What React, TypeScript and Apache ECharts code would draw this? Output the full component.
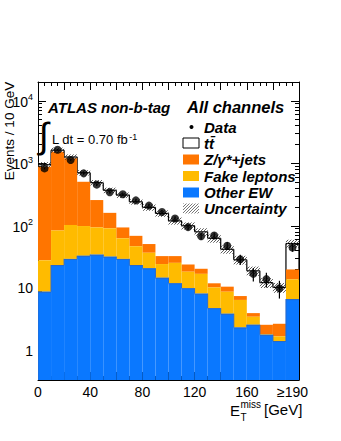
import React, { useEffect, useRef } from "react";
import * as echarts from "echarts";

// ---- data ----
const binLow = [0, 10, 20, 30, 40, 50, 60, 70, 80, 90, 100, 110, 120, 130, 140, 150, 160, 170, 180, 190];
const BIN_WIDTH = 10;
const otherEW = [8.8, 23.5, 29.5, 33, 34.5, 32, 29.5, 23.5, 20.8, 14.7, 12, 10, 8.2, 4.8, 3.9, 2.35, 2.6, 1.8, 1.43, 6.7];
const fakeLeptons = [19.2, 60.5, 73.5, 66, 59.5, 59, 33.5, 23.5, 16.2, 9.7, 13.5, 8.4, 8.8, 5.5, 4.9, 4.15, 0.9, 0.05, 0.27, 7.2];
const zJets = [852, 1446, 1097, 407, 164, 70, 31, 22, 14, 8.3, 7.2, 5.6, 3.5, 1.7, 1.8, 1.0, 0.5, 0.75, 1.0, 6.1];
const ttbar = [70, 90, 60, 200, 232, 209, 216, 173, 146, 125, 87, 76, 59.5, 51, 31.4, 21, 15, 9.7, 7.6, 32];
const dataCounts = [828, 1650, 1130, 690, 455, 345, 320, 255, 210, 166, 131, 95, 68, 70, 48, 29, 17, 14, 10, 45];
const uncRel = [0.1, 0.1, 0.1, 0.1, 0.1, 0.1, 0.1, 0.1, 0.12, 0.12, 0.13, 0.13, 0.14, 0.15, 0.15, 0.16, 0.17, 0.18, 0.18, 0.15];

const yMajorTicks = [1, 10, 100, 1000, 10000];
const yMinorMultipliers = [2, 3, 4, 5, 6, 7, 8, 9];
const xLabelValues = [0, 40, 80, 120, 160, 195];

const Y_MIN = 0.34;
const Y_MAX = 20000;

const FONT = "'Liberation Sans', Arial, Helvetica, sans-serif";
const C_ORANGE = "#ff7500";
const C_YELLOW = "#ffbb00";
const C_BLUE = "#0a78ff";
const C_BLUE_EDGE = "#2a68c8";

export default function App() {
  const ref = useRef<HTMLDivElement>(null);

  useEffect(() => {
    if (!ref.current) return;
    const chart = echarts.init(ref.current, null, { renderer: "svg" });

    const blueTop = otherEW.slice();
    const yellowTop = blueTop.map((v, i) => v + fakeLeptons[i]);
    const orangeTop = yellowTop.map((v, i) => v + zJets[i]);
    const total = orangeTop.map((v, i) => v + ttbar[i]);

    const yMinor: number[] = [];
    [0.1, 1, 10, 100, 1000, 10000].forEach((d) =>
      yMinorMultipliers.forEach((m) => {
        const v = d * m;
        if (v > Y_MIN && v < Y_MAX) yMinor.push(v);
      })
    );

    const layer = (lo: number[], hi: number[]) =>
      binLow.map((x, i) => [x, x + BIN_WIDTH, lo[i], hi[i], i === 0 ? Y_MIN / 2 : hi[i - 1]]);
    const floor = binLow.map(() => Y_MIN / 2);

    const rectItem = (color: string, edge?: string) => (params: any, api: any) => {
      const p0 = api.coord([api.value(0), api.value(3)]);
      const p1 = api.coord([api.value(1), api.value(2)]);
      const rect = {
        type: "rect",
        shape: { x: p0[0], y: p0[1], width: p1[0] - p0[0], height: p1[1] - p0[1] },
        style: { fill: color, stroke: null },
      };
      if (!edge) return rect;
      const pp = api.coord([api.value(0), api.value(4)]);
      return {
        type: "group",
        children: [
          rect,
          { type: "line", shape: { x1: p0[0], y1: p0[1] + 0.5, x2: p1[0], y2: p0[1] + 0.5 }, style: { stroke: edge, lineWidth: 1 } },
          { type: "line", shape: { x1: p0[0], y1: pp[1], x2: p0[0], y2: p0[1] }, style: { stroke: edge, lineWidth: 1 } },
        ],
      };
    };

    const ttData = binLow.map((x, i) => [
      x,
      x + BIN_WIDTH,
      i === 0 ? Y_MIN / 2 : total[i - 1],
      total[i],
      i === binLow.length - 1 ? 1 : 0,
    ]);

    const ttRender = (params: any, api: any) => {
      const x0 = api.value(0), x1 = api.value(1), prev = api.value(2), tot = api.value(3), last = api.value(4);
      const a = api.coord([x0, tot]);
      const b = api.coord([x1, tot]);
      const c = api.coord([x0, prev]);
      const children: any[] = [
        { type: "line", shape: { x1: a[0], y1: a[1], x2: b[0], y2: b[1] }, style: { stroke: "#000", lineWidth: 1.2 } },
        { type: "line", shape: { x1: c[0], y1: c[1], x2: a[0], y2: a[1] }, style: { stroke: "#000", lineWidth: 1.2 } },
      ];
      if (last) {
        const d = api.coord([x1, Y_MIN / 2]);
        children.push({ type: "line", shape: { x1: b[0], y1: b[1], x2: d[0], y2: d[1] }, style: { stroke: "#000", lineWidth: 1.2 } });
      }
      return { type: "group", children };
    };

    const hatchLines = (x0: number, x1: number, yt: number, yb: number, s: number, color: string, lw: number) => {
      const out: any[] = [];
      const start = Math.ceil((x0 + yt) / s) * s;
      for (let c = start; c <= x1 + yb; c += s) {
        const xa = Math.max(x0, c - yb);
        const xb = Math.min(x1, c - yt);
        if (xb > xa)
          out.push({ type: "line", shape: { x1: xa, y1: c - xa, x2: xb, y2: c - xb }, style: { stroke: color, lineWidth: lw } });
      }
      return out;
    };

    const uncData = binLow.map((x, i) => [x, x + BIN_WIDTH, total[i] * (1 - uncRel[i]), total[i] * (1 + uncRel[i])]);
    const hatchRender = (params: any, api: any) => {
      const p0 = api.coord([api.value(0), api.value(3)]);
      const p1 = api.coord([api.value(1), api.value(2)]);
      return { type: "group", children: hatchLines(p0[0], p1[0], p0[1], p1[1], 3, "#333", 0.8) };
    };

    const centers = binLow.map((x) => x + BIN_WIDTH / 2);
    const errData = centers.map((c, i) => [c, Math.max(dataCounts[i] - Math.sqrt(dataCounts[i]), Y_MIN / 2), dataCounts[i] + Math.sqrt(dataCounts[i])]);
    const errRender = (params: any, api: any) => {
      const a = api.coord([api.value(0), api.value(1)]);
      const b = api.coord([api.value(0), api.value(2)]);
      return { type: "line", shape: { x1: a[0], y1: a[1], x2: b[0], y2: b[1] }, style: { stroke: "#000", lineWidth: 1.2 } };
    };

    const axisLine = { show: true, onZero: false, lineStyle: { color: "#000", width: 1 } };
    const xAxisBase = (pos: string, labels: boolean) => ({
      type: "value",
      position: pos,
      min: 0,
      max: 200,
      interval: 20,
      axisLine,
      axisTick: { show: true, inside: true, length: 8, lineStyle: { color: "#000", width: 1 } },
      minorTick: { show: true, splitNumber: 4, length: 4, lineStyle: { color: "#000", width: 1 } },
      splitLine: { show: false },
      axisLabel: labels
        ? {
            show: true,
            customValues: xLabelValues,
            formatter: (v: number) => (v === 195 ? "\u2265190" : String(v)),
            fontSize: 14,
            fontFamily: FONT,
            color: "#000",
            margin: 5,
          }
        : { show: false },
    });

    const yAxisBase = (pos: string, ticks: number[], len: number, labels: boolean, line: boolean) => ({
      type: "log",
      logBase: 10,
      position: pos,
      min: Y_MIN,
      max: Y_MAX,
      axisLine: line ? axisLine : { show: false, onZero: false },
      axisTick: { show: true, inside: true, length: len, customValues: ticks, lineStyle: { color: "#000", width: 1 } },
      minorTick: { show: false },
      splitLine: { show: false },
      axisLabel: labels
        ? {
            show: true,
            customValues: yMajorTicks,
            margin: 5,
            formatter: (v: number) => {
              const e = Math.round(Math.log10(v));
              if (e <= 1) return String(Math.round(v));
              return `{b|10}{s|${e}}`;
            },
            fontSize: 14,
            fontFamily: FONT,
            color: "#000",
            rich: {
              b: { fontSize: 14, fontFamily: FONT, color: "#000", lineHeight: 16, verticalAlign: "bottom" },
              s: { fontSize: 9, fontFamily: FONT, color: "#000", lineHeight: 9, verticalAlign: "top" },
            },
          }
        : { show: false },
    });

    const txt = (x: number, y: number, text: string, size: number, opts: any = {}) => ({
      type: "text",
      x,
      y,
      silent: true,
      z: 100,
      rotation: opts.rotation || 0,
      style: {
        text,
        fontSize: size,
        fontFamily: FONT,
        fontWeight: opts.bold ? "bold" : "normal",
        fontStyle: opts.italic ? "italic" : "normal",
        fill: "#000",
        align: opts.align || "left",
        verticalAlign: opts.valign || "middle",
        textAlign: opts.align || "left",
        textVerticalAlign: opts.valign || "middle",
        rich: opts.rich,
      },
    });

    const LX = 183, LW = 16, LH = 10, TX = 204;
    const legendRows = [127, 143, 159.5, 176, 192.5, 208.5];
    const box = (y: number, fill: string, stroke?: string) => ({
      type: "rect",
      z: 100,
      shape: { x: LX, y: y - LH / 2, width: LW, height: LH },
      style: { fill, stroke: stroke || null, lineWidth: 1 },
    });

    const graphic: any[] = [
      txt(9.5, 131, "Events / 10 GeV", 13.5, { rotation: Math.PI / 2, align: "center" }),
      txt(48, 107, "ATLAS non-b-tag", 15, { bold: true, italic: true }),
      txt(187, 107, "All channels", 16.5, { bold: true, italic: true }),
      txt(39, 135, "\u222b", 36, {}),
      txt(52, 139, "L dt = 0.70 fb{s|-1}", 13, {
        rich: { s: { fontSize: 9, fontFamily: FONT, fill: "#000", verticalAlign: "top", lineHeight: 9, padding: [0, 0, 0, 1] } },
      }),
      // legend
      { type: "circle", z: 100, shape: { cx: 191.5, cy: legendRows[0], r: 2 }, style: { fill: "#000" } },
      txt(TX, legendRows[0], "Data", 15, { bold: true, italic: true }),
      box(legendRows[1], "#fff", "#000"),
      txt(TX, legendRows[1], "t\u0074\u0304", 15, { bold: true, italic: true }),
      box(legendRows[2], C_ORANGE),
      txt(TX, legendRows[2], "Z/\u03b3*+jets", 15, { bold: true, italic: true }),
      box(legendRows[3], C_YELLOW),
      txt(TX, legendRows[3], "Fake leptons", 15, { bold: true, italic: true }),
      box(legendRows[4], C_BLUE),
      txt(TX, legendRows[4], "Other EW", 15, { bold: true, italic: true }),
      ...hatchLines(LX, LX + LW, legendRows[5] - LH / 2, legendRows[5] + LH / 2, 3, "#555", 0.8).map((l) => ({ ...l, z: 100 })),
      txt(TX, legendRows[5], "Uncertainty", 15, { bold: true, italic: true }),
      // x-axis title
      txt(230, 410, "E", 15, {}),
      txt(240.5, 404.5, "miss", 10, {}),
      txt(240.5, 417.5, "T", 10, {}),
      txt(264, 409.5, "[GeV]", 15, {}),
    ];

    const option: any = {
      animation: false,
      backgroundColor: "#fff",
      grid: { left: 38, top: 82, width: 261, height: 298, containLabel: false },
      xAxis: [xAxisBase("bottom", true), xAxisBase("top", false)],
      yAxis: [
        yAxisBase("left", yMajorTicks, 8, true, true),
        yAxisBase("left", yMinor, 4, false, false),
        yAxisBase("right", yMajorTicks, 8, false, true),
        yAxisBase("right", yMinor, 4, false, false),
      ],
      series: [
        { type: "custom", name: "ttbar", clip: true, renderItem: ttRender, data: ttData, encode: { x: [0, 1], y: [3] } },
        { type: "custom", name: "Z/gamma*+jets", clip: true, renderItem: rectItem(C_ORANGE), data: layer(yellowTop, orangeTop), encode: { x: [0, 1], y: [2, 3] } },
        { type: "custom", name: "Fake leptons", clip: true, renderItem: rectItem(C_YELLOW), data: layer(blueTop, yellowTop), encode: { x: [0, 1], y: [2, 3] } },
        { type: "custom", name: "Other EW", clip: true, renderItem: rectItem(C_BLUE, C_BLUE_EDGE), data: layer(floor, blueTop), encode: { x: [0, 1], y: [2, 3] } },
        { type: "custom", name: "Uncertainty", clip: true, renderItem: hatchRender, data: uncData, encode: { x: [0, 1], y: [2, 3] } },
        { type: "custom", name: "Data errors", clip: true, renderItem: errRender, data: errData, encode: { x: [0], y: [1, 2] } },
        {
          type: "scatter",
          name: "Data",
          symbol: "circle",
          symbolSize: 8,
          itemStyle: { color: "#000" },
          data: centers.map((c, i) => [c, dataCounts[i]]),
        },
      ],
      graphic,
    };

    chart.setOption(option);
    return () => chart.dispose();
  }, []);

  return <div ref={ref} style={{ position: "fixed", left: 0, top: 0, width: 341, height: 441, background: "#fff" }} />;
}
